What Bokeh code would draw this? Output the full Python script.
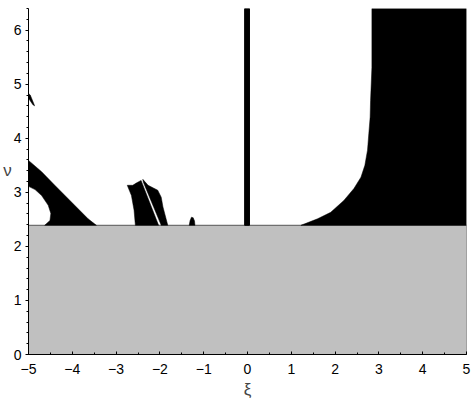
from bokeh.plotting import figure
from bokeh.models import SingleIntervalTicker, CustomJSTickFormatter, Range1d
from bokeh.embed import file_html
from bokeh.resources import INLINE

# ---- data ----
xi_range = [-5, 5]
nu_range = [0, 6.4]
gray_top = 2.39

# left wedge region
left_wedge_xi = [-5.0, -4.70, -4.40, -4.02, -3.64, -3.45, -4.63, -4.51, -4.49, -4.55, -4.70, -4.85, -5.0]
left_wedge_nu = [3.59, 3.38, 3.13, 2.82, 2.51, 2.39, 2.39, 2.48, 2.61, 2.76, 2.94, 3.05, 3.11]

# small sliver near top-left
sliver_xi = [-5.0, -4.96, -4.86, -4.90, -5.0]
sliver_nu = [4.83, 4.80, 4.60, 4.62, 4.74]

# middle pieces
mid_a_xi = [-2.745, -2.62, -2.54, -2.43, -2.03, -2.56, -2.59, -2.65]
mid_a_nu = [3.13, 3.13, 3.17, 3.22, 2.39, 2.39, 2.67, 2.94]
mid_b_xi = [-2.39, -2.27, -2.05, -1.97, -1.93, -1.82, -1.97, -2.38]
mid_b_nu = [3.24, 3.13, 3.04, 2.91, 2.73, 2.39, 2.39, 3.19]

# small bump
bump_xi = [-1.33, -1.31, -1.28, -1.24, -1.21, -1.20]
bump_nu = [2.39, 2.48, 2.54, 2.53, 2.47, 2.39]

# vertical bar at xi = 0
bar_left, bar_right = -0.065, 0.045

# right region
right_xi = [1.22, 1.60, 1.90, 2.20, 2.43, 2.59, 2.68, 2.74, 2.77, 2.80, 2.81, 2.84, 2.84, 5.0, 5.0]
right_nu = [2.39, 2.51, 2.63, 2.85, 3.07, 3.28, 3.50, 3.78, 4.09, 4.39, 4.70, 5.31, 6.4, 6.4, 2.39]

FONT = "Liberation Sans"

p = figure(width=475, height=402, output_backend="svg", toolbar_location=None,
           x_range=Range1d(*xi_range), y_range=Range1d(*nu_range),
           min_border_left=27, min_border_right=9, min_border_top=8, min_border_bottom=48)
p.outline_line_color = None
p.xgrid.visible = False
p.ygrid.visible = False

# gray band
p.quad(left=[xi_range[0]], right=[xi_range[1]], bottom=[0], top=[gray_top],
       fill_color="#c0c0c0", line_color="#555555", line_width=1)

# black regions
p.patches([left_wedge_xi, sliver_xi, mid_a_xi, mid_b_xi, bump_xi, right_xi],
          [left_wedge_nu, sliver_nu, mid_a_nu, mid_b_nu, bump_nu, right_nu],
          fill_color="black", line_color="black", line_width=0.5)
p.quad(left=[bar_left], right=[bar_right], bottom=[gray_top], top=[nu_range[1]],
       fill_color="black", line_color="black")

fmt = CustomJSTickFormatter(code="""
return tick < 0 ? "\\u2212" + Math.abs(tick) : String(tick);
""")

xa = p.xaxis[0]
xa.ticker = SingleIntervalTicker(interval=1, num_minor_ticks=2)
xa.formatter = fmt
xa.major_tick_in = 3
xa.major_tick_out = 0
xa.minor_tick_in = 2
xa.minor_tick_out = 0
xa.major_label_standoff = 9
xa.major_label_text_font = FONT
xa.major_label_text_font_size = "14px"
xa.major_label_text_color = "black"
xa.axis_label = "ξ"
xa.axis_label_text_font = FONT
xa.axis_label_text_font_size = "17px"
xa.axis_label_text_font_style = "normal"
xa.axis_label_standoff = 3
xa.axis_line_color = "black"

ya = p.yaxis[0]
ya.ticker = SingleIntervalTicker(interval=1, num_minor_ticks=5)
ya.major_tick_in = 0
ya.major_tick_out = 3
ya.minor_tick_in = 0
ya.minor_tick_out = 2
ya.major_label_standoff = 4
ya.major_label_text_font = FONT
ya.major_label_text_font_size = "14px"
ya.major_label_text_color = "black"
ya.axis_line_color = "black"
ya.axis_label = "ν\n\u00a0"
ya.axis_label_orientation = "horizontal"
ya.axis_label_standoff = -1
ya.axis_label_text_font = FONT
ya.axis_label_text_font_size = "17px"
ya.axis_label_text_font_style = "normal"

open("out.html", "w").write(file_html(p, INLINE))
